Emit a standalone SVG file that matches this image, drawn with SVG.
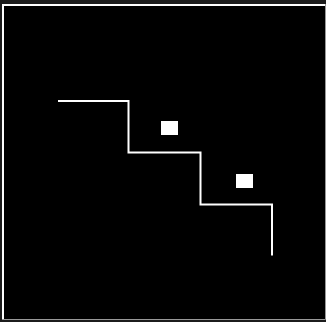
<svg xmlns="http://www.w3.org/2000/svg" width="326" height="322" viewBox="0 0 326 322">
<style>
.step{fill:none;stroke:#fff;stroke-width:2;stroke-linejoin:miter}
.box{fill:#fff}
.edge{fill:none;stroke:#fff;stroke-width:2}
.edge2{fill:none;stroke:#999;stroke-width:1}
</style>
<rect x="0" y="0" width="326" height="322" fill="#1c1c1c"/>
<g id="frame">
<rect x="3" y="5" width="322.5" height="314.5" fill="#000"/>
<path class="edge" d="M3,320 V5 H325"/>
<path class="edge2" d="M325.5,4 V319.5 H2"/>
</g>
<g id="connectors">
<polyline class="step" points="58,101 128.5,101 128.5,152.5 200.5,152.5 200.5,204.5 272,204.5 272,255.5"/>
</g>
<g id="box1"><rect class="box" x="161" y="121" width="17" height="14"/></g>
<g id="box2"><rect class="box" x="236" y="174" width="17" height="14"/></g>
</svg>
